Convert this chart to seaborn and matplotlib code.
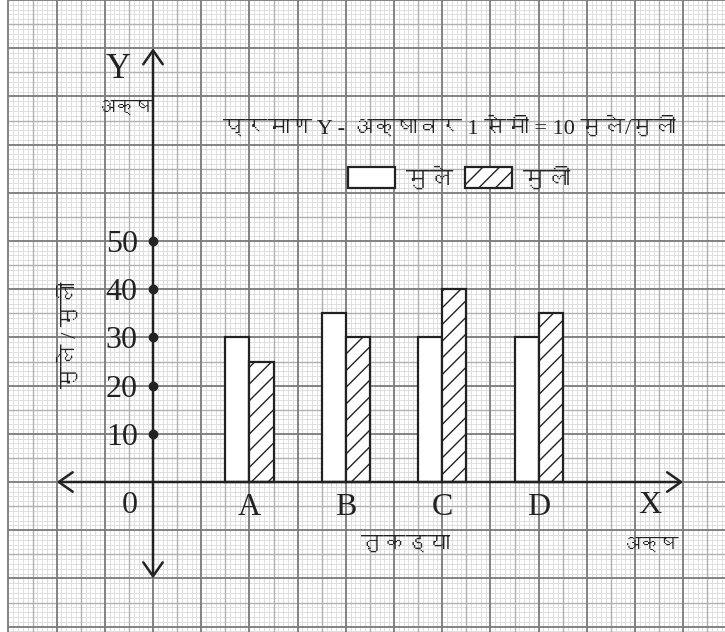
import pandas as pd
import seaborn as sns
import matplotlib.pyplot as plt
from matplotlib import font_manager
from matplotlib.ft2font import FT2Font

categories = ['A', 'B', 'C', 'D']
boys = [30, 35, 30, 30]
girls = [25, 30, 40, 35]
series_names = ['मुले', 'मुली']
y_ticks = [10, 20, 30, 40, 50]


def find_devanagari_font():
    for f in font_manager.fontManager.ttflist:
        try:
            if ord('म') in FT2Font(f.fname).get_charmap():
                return f.name
        except Exception:
            pass
    return 'DejaVu Sans'


def cx(cm):
    # 1 category step = 2 cm on the paper, origin one step left of 'A'
    return cm / 2 - 1


def cy(cm):
    # 1 cm = 10 children on the Y axis
    return cm * 10


sns.set_theme(style="white")
deva = find_devanagari_font()
plt.rcParams['font.family'] = ['Liberation Serif', deva, 'DejaVu Sans']
plt.rcParams['hatch.color'] = '#222222'
INK = '#222222'

df = pd.DataFrame({
    'तुकड्या': categories * 2,
    'संख्या': boys + girls,
    'गट': [series_names[0]] * len(categories) + [series_names[1]] * len(categories),
})

fig = plt.figure(figsize=(7.25, 6.32), dpi=100)
ax = fig.add_axes([0, 0, 1, 1])

# graph paper: mm, 5 mm and cm lines
px = 48.2
x_lo, x_hi = -153 / px, (725 - 153) / px
y_lo, y_hi = (482 - 632) / px, 482 / px


def paper_style(k):
    if k % 10 == 0:
        return '#7a7a7a', 1.3, 0.3
    if k % 5 == 0:
        return '#b0b0b0', 1.0, 0.2
    return '#dedede', 0.7, 0.1


for k in range(-30, 119):
    col, lw, z = paper_style(k)
    ax.vlines(cx(k / 10), cy(y_lo), cy(y_hi), color=col, lw=lw, zorder=z)
for k in range(-31, 101):
    col, lw, z = paper_style(k)
    ax.hlines(cy(k / 10), cx(-3), cx(x_hi), color=col, lw=lw, zorder=z)

sns.barplot(
    data=df, x='तुकड्या', y='संख्या', hue='गट',
    width=0.5, gap=0, palette=['white', 'white'], saturation=1,
    edgecolor=INK, linewidth=1.6, legend=False, ax=ax, zorder=3,
)
for bar in ax.containers[1]:
    bar.set_hatch('//')

ax.legend(
    handles=list(ax.containers), labels=series_names, ncol=2, frameon=False,
    loc='center left', bbox_to_anchor=(cx(4.05), cy(6.29)), bbox_transform=ax.transData,
    handlelength=2.0, handleheight=1.0, handletextpad=0.45, columnspacing=0.5,
    borderpad=0, borderaxespad=0, fontsize=17,
)

ax.set_xlim(cx(x_lo), cx(x_hi))
ax.set_ylim(cy(y_lo), cy(y_hi))

# axes with open arrow heads
arrow = dict(arrowstyle='<->,head_length=0.5,head_width=0.35', lw=1.8, color=INK,
             mutation_scale=20, shrinkA=0, shrinkB=0)
ax.annotate('', xy=(cx(0), cy(9)), xytext=(cx(0), cy(-2)), arrowprops=arrow, zorder=4)
ax.annotate('', xy=(cx(11), 0), xytext=(cx(-2), 0), arrowprops=arrow, zorder=4)

ax.spines['left'].set_position(('data', cx(0)))
ax.spines['bottom'].set_position(('data', 0))
for s in ax.spines.values():
    s.set_color('none')
ax.set_yticks(y_ticks)
ax.set_yticklabels([str(v) for v in y_ticks])
ax.tick_params(axis='y', length=0, pad=11, labelsize=23, labelcolor=INK)
ax.tick_params(axis='x', length=0, pad=8, labelsize=23, labelcolor=INK)
ax.plot([cx(0)] * len(y_ticks), y_ticks, 'o', ms=6, color=INK, zorder=5)
ax.set_xlabel('')
ax.set_ylabel('')

ax.text(cx(-0.73), cy(8.55), 'Y', fontsize=25, color=INK, ha='center', va='center')
ax.text(cx(-0.58), cy(7.76), 'अक्ष', fontsize=14, color=INK, ha='center', va='center')
ax.text(cx(6.14), cy(7.34), 'प्रमाण Y - अक्षावर 1 सेमी = 10 मुले/मुली', fontsize=16,
        color=INK, ha='center', va='center')
ax.text(cx(-0.48), cy(-0.48), '0', fontsize=23, color=INK, ha='center', va='center')
ax.text(cx(10.31), cy(-0.48), 'X', fontsize=23, color=INK, ha='center', va='center')
ax.text(cx(5.23), cy(-1.31), 'तुकड्या', fontsize=16, color=INK, ha='center', va='center')
ax.text(cx(10.31), cy(-1.31), 'अक्ष', fontsize=14, color=INK, ha='center', va='center')
ax.text(cx(-1.72), cy(3.05), 'मुले / मुली', fontsize=16, color=INK, rotation=90,
        ha='center', va='center')

fig.savefig('out.png', dpi=100)
